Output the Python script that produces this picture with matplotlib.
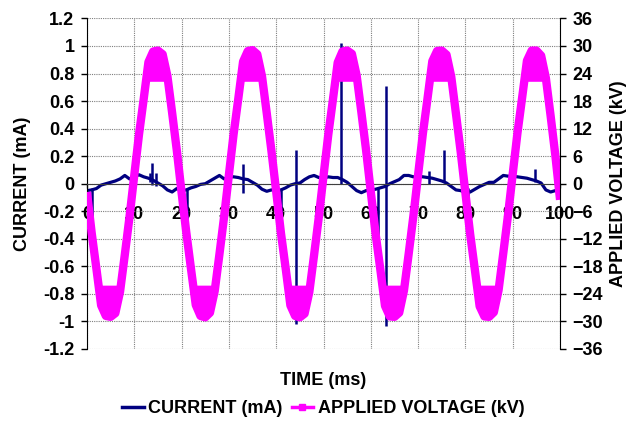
import numpy as np
import matplotlib
matplotlib.use('Agg')
import matplotlib.pyplot as plt
from matplotlib.lines import Line2D

plt.rcParams['font.family'] = ['Liberation Sans', 'DejaVu Sans']
plt.rcParams['font.weight'] = 'bold'
plt.rcParams['font.size'] = 13

# time axis, one sample per ms
time_ms = list(range(0, 101))

# applied voltage (kV), every 1 ms (outer edge of the noisy crest)
voltage_kv = [
    -1.8, -10.7, -18.5, -26.5, -28.8, -29.0, -28.2, -23.5, -15.5, -7.2,
    1.8, 10.7, 18.5, 26.5, 28.8, 29.0, 28.2, 23.5, 15.5, 7.2,
    -1.9, -10.6, -18.6, -26.4, -28.8, -29.1, -28.1, -23.4, -15.4, -7.1,
    1.9, 10.8, 18.6, 26.6, 28.9, 29.1, 28.2, 23.4, 15.4, 7.1,
    -1.7, -10.7, -18.4, -26.5, -28.8, -29.1, -28.3, -23.6, -15.6, -7.3,
    1.7, 10.6, 18.4, 26.4, 28.8, 29.0, 28.3, 23.6, 15.6, 7.3,
    -1.8, -10.8, -18.6, -26.6, -28.9, -29.0, -28.1, -23.3, -15.3, -7.0,
    2.0, 10.9, 18.7, 26.7, 28.9, 29.0, 28.1, 23.3, 15.2, 6.9,
    -2.1, -11.0, -18.8, -26.7, -28.9, -29.0, -28.0, -23.2, -15.1, -6.8,
    2.2, 11.1, 18.9, 26.8, 29.0, 29.0, 27.9, 23.0, 14.8, 6.2,
    -3.5,
]
# floor of the noisy band round each crest / trough
band_kv = 22.2

# current (mA) baseline, every 1 ms
current_ma = [
    -0.05, -0.045, -0.035, -0.01, 0.0, 0.01, 0.02, 0.035, 0.06, 0.035,
    0.05, 0.065, 0.05, 0.04, 0.025, 0.005, -0.015, -0.045, -0.06, -0.035,
    -0.05, -0.045, -0.03, -0.02, -0.005, 0.0, 0.02, 0.04, 0.06, 0.035,
    0.05, 0.05, 0.045, 0.035, 0.03, 0.01, -0.01, -0.04, -0.055, -0.045,
    -0.05, -0.045, -0.03, -0.01, 0.0, 0.005, 0.03, 0.05, 0.06, 0.045,
    0.04, 0.05, 0.045, 0.045, 0.03, 0.01, -0.02, -0.05, -0.065, -0.05,
    -0.045, -0.04, -0.03, -0.02, 0.0, 0.015, 0.03, 0.06, 0.06, 0.05,
    0.055, 0.05, 0.045, 0.04, 0.03, 0.02, 0.005, -0.02, -0.045, -0.05,
    -0.065, -0.06, -0.04, -0.02, -0.005, 0.01, 0.01, 0.035, 0.06, 0.055,
    0.055, 0.05, 0.045, 0.04, 0.03, 0.02, 0.005, -0.045, -0.06, -0.05,
    -0.03,
]

# discharge spikes in the current: time, top and bottom (mA)
spike_t = [1.0, 13.3, 13.7, 14.5, 21.1, 32.9, 41.0, 44.1, 53.7, 61.5, 63.2, 72.3, 75.5, 80.5, 94.7]
spike_hi = [-0.03, 0.08, 0.15, 0.08, -0.04, 0.14, -0.04, 0.245, 1.02, -0.03, 0.71, 0.09, 0.245, -0.03, 0.11]
spike_lo = [-0.27, 0.01, -0.01, -0.02, -0.26, -0.065, -0.25, -1.02, 0.0, -0.38, -1.03, 0.0, 0.02, -0.13, 0.01]

x_ticks = [0, 10, 20, 30, 40, 50, 60, 70, 80, 90, 100]
left_ticks = [1.2, 1, 0.8, 0.6, 0.4, 0.2, 0, -0.2, -0.4, -0.6, -0.8, -1, -1.2]
left_labels = ['1.2', '1', '0.8', '0.6', '0.4', '0.2', '0', '-0.2', '-0.4', '-0.6', '-0.8', '-1', '-1.2']
right_ticks = [36, 30, 24, 18, 12, 6, 0, -6, -12, -18, -24, -30, -36]

t = np.array(time_ms, dtype=float)
v = np.array(voltage_kv)

fig = plt.figure(figsize=(6.3, 4.29), dpi=100)
ax = fig.add_axes([0.138, 0.1865, 0.751, 0.7705])
ax2 = ax.twinx()

navy = '#000080'
pink = '#ff00ff'

ax.plot(time_ms, current_ma, color=navy, lw=2.3)
ax.vlines(spike_t, spike_lo, spike_hi, color=navy, lw=1.8)
ax.set_xlim(0, 100)
ax.set_ylim(-1.2, 1.2)
ax.set_xticks(x_ticks)
ax.set_yticks(left_ticks)
ax.set_yticklabels(left_labels)
ax.grid(True, color='#7f7f7f', linestyle=(0, (1, 1)), lw=0.8)
ax.set_axisbelow(True)
ax.spines['bottom'].set_position(('data', 0))
ax.spines['bottom'].set_color('#404040')
ax.spines['top'].set_visible(False)
ax.spines['right'].set_visible(False)
ax.tick_params(axis='y', direction='out', length=4, pad=5, width=1)
ax.tick_params(axis='x', direction='out', length=3, pad=13, width=1, color='#404040')

ax2.fill_between(t, band_kv, v, where=v > band_kv, interpolate=True, color=pink, lw=0)
ax2.fill_between(t, -band_kv, v, where=v < -band_kv, interpolate=True, color=pink, lw=0)
ax2.plot(t, v, color=pink, lw=6, solid_joinstyle='round', solid_capstyle='butt')
ax2.set_ylim(-36, 36)
ax2.set_yticks(right_ticks)
ax2.tick_params(axis='y', direction='out', length=4, pad=5, width=1)
ax2.spines['top'].set_visible(False)
ax2.spines['bottom'].set_visible(False)
ax2.spines['left'].set_visible(False)

fig.text(0.035, 0.5715, 'CURRENT (mA)', rotation=90, ha='center', va='center')
fig.text(0.982, 0.5715, 'APPLIED VOLTAGE (kV)', rotation=90, ha='center', va='center')
fig.text(0.513, 0.112, 'TIME (ms)', ha='center', va='center')

handles = [
    Line2D([], [], color=navy, lw=2.5),
    Line2D([], [], color=pink, lw=2.5, marker='s', markersize=5),
]
fig.legend(handles, ['CURRENT (mA)', 'APPLIED VOLTAGE (kV)'], loc='center',
           bbox_to_anchor=(0.513, 0.047), ncol=2, frameon=False,
           handlelength=1.2, handletextpad=0.25, columnspacing=0.5)

fig.savefig('out.png', dpi=100)
